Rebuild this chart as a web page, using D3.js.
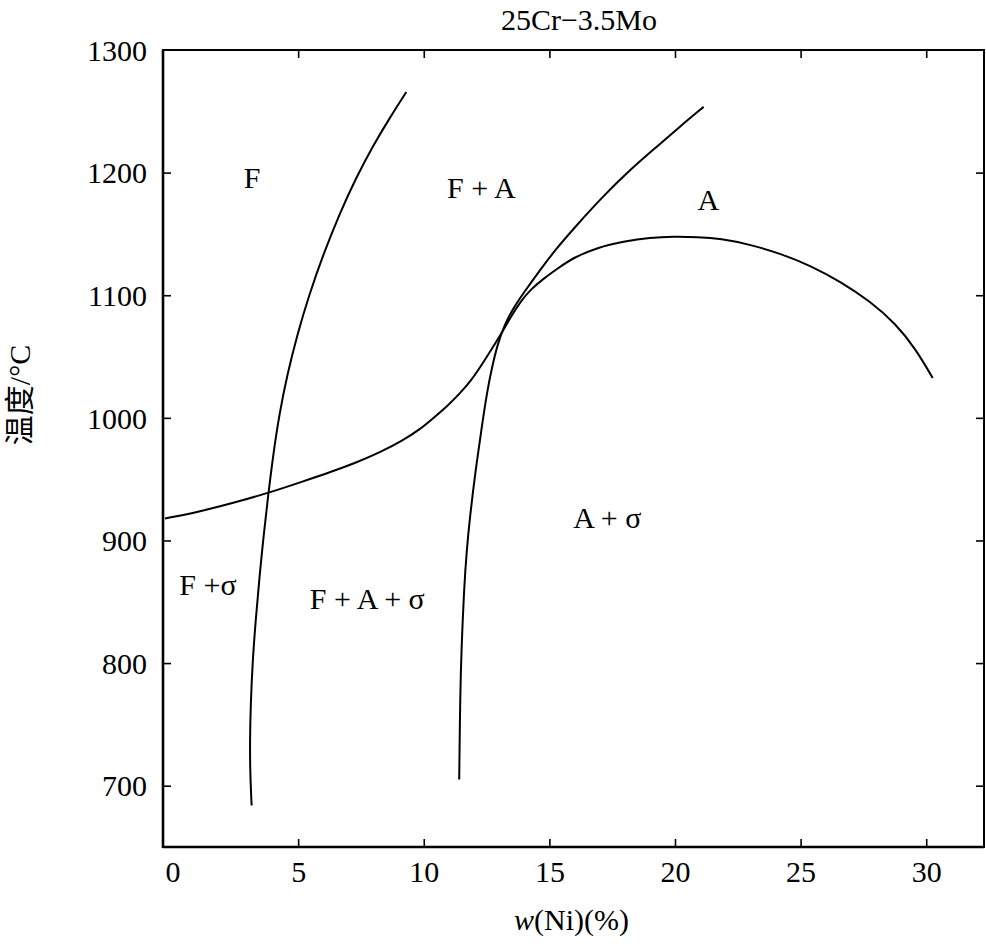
<!DOCTYPE html>
<html><head><meta charset="utf-8">
<script src="https://cdn.jsdelivr.net/npm/d3@7"></script>
<style>body{margin:0;background:#fff}svg{display:block}</style>
</head><body>
<script>
// ---- data ----
const title = "25Cr\u22123.5Mo";
const xTicks = [0, 5, 10, 15, 20, 25, 30];
const yTicks = [700, 800, 900, 1000, 1100, 1200, 1300];
// F / F+A boundary (Ni %, °C)
const curveF = [[3.147,683.9],[3.088,711.7],[3.080,736.3],[3.108,764.9],[3.187,801.7],[3.307,834.5],[3.446,867.2],[3.625,904.0],[3.805,936.7],[4.004,969.5],[4.243,1002.2],[4.562,1034.9],[4.960,1067.6],[5.438,1100.4],[5.996,1133.1],[6.633,1165.8],[7.311,1196.1],[7.988,1222.3],[8.665,1245.3],[9.303,1265.7]];
// sigma solvus
const curveSigma = [[-0.299,917.9],[1.096,923.6],[2.490,931.0],[3.884,939.2],[5.080,947.4],[6.275,955.6],[7.351,963.8],[8.267,971.9],[9.183,981.8],[9.861,990.8],[10.378,999.8],[10.936,1009.6],[11.454,1020.2],[11.932,1031.7],[12.331,1044.0],[12.729,1057.0],[13.127,1070.1],[13.486,1083.2],[13.845,1094.7],[14.243,1104.5],[14.761,1113.5],[15.319,1121.7],[15.956,1130.7],[16.912,1138.9],[17.948,1143.8],[19.024,1147.1],[19.940,1147.9],[20.896,1147.5],[21.813,1146.2],[23.008,1141.3],[24.203,1133.9],[25.398,1124.1],[26.594,1111.0],[27.789,1094.7],[28.785,1076.7],[29.582,1056.2],[30.259,1032.5]];
// F+A / A boundary
const curveA = [[11.41,705.0],[11.45,774.6],[11.50,810.7],[11.60,859.8],[11.71,892.6],[11.85,921.2],[11.97,941.7],[12.07,958.0],[12.29,989.9],[12.51,1020.2],[12.71,1040.7],[12.93,1059.5],[13.21,1075.9],[13.57,1089.8],[14.01,1102.9],[14.58,1119.2],[15.24,1137.2],[16.04,1156.0],[17.10,1180.0],[18.23,1202.7],[19.30,1221.6],[20.22,1238.0],[21.14,1253.6]];
const regionNames = ["F", "F + A", "A", "A + \u03c3", "F +\u03c3", "F + A + \u03c3"];
const regionX = [3.17, 12.29, 21.33, 17.31, 1.41, 7.75];
const regionT = [1196, 1188, 1178, 919, 864, 853];

// ---- layout ----
const W = 986, H = 944;
const L = 163, R = 984, T = 50, B = 847;
const serif = "'Liberation Serif','Times New Roman',serif";

const svg = d3.select("body").append("svg").attr("width", W).attr("height", H);
const x = d3.scaleLinear().domain([-0.38, 32.3]).range([L, R]);
const y = d3.scaleLinear().domain([650, 1300]).range([B, T]);

// frame
svg.append("rect").attr("x", L).attr("y", T).attr("width", R - L).attr("height", B - T)
  .attr("fill", "none").attr("stroke", "#000").attr("stroke-width", 2);
svg.append("line").attr("x1", L).attr("x2", L).attr("y1", T).attr("y2", B+1).attr("stroke","#000").attr("stroke-width",2.6);
svg.append("line").attr("x1", L).attr("x2", R).attr("y1", B).attr("y2", B).attr("stroke","#000").attr("stroke-width",2.6);

// axes with inward ticks
const axB = svg.append("g").attr("transform", `translate(0,${B})`)
  .call(d3.axisBottom(x).tickValues(xTicks).tickSize(-8).tickPadding(14).tickFormat(d3.format("d")));
const axTop = svg.append("g").attr("transform", `translate(0,${T})`)
  .call(d3.axisTop(x).tickValues(xTicks.filter(d => d > 0)).tickSize(-8).tickFormat(""));
const axL = svg.append("g").attr("transform", `translate(${L},0)`)
  .call(d3.axisLeft(y).tickValues(yTicks).tickSize(-8).tickPadding(16).tickFormat(d3.format("d")));
const axR = svg.append("g").attr("transform", `translate(${R},0)`)
  .call(d3.axisRight(y).tickValues(yTicks.filter(d => d < 1300)).tickSize(-8).tickFormat(""));
[axB, axTop, axL, axR].forEach(g => {
  g.select(".domain").remove();
  g.selectAll(".tick line").attr("stroke", "#000").attr("stroke-width", 1.6);
  g.selectAll(".tick text").attr("font-family", serif).attr("font-size", 30).attr("fill", "#000");
});
axB.selectAll(".tick").filter(d => d === 0).select("line").remove();
axL.selectAll(".tick").filter(d => d === 1300).select("line").remove();
axL.selectAll(".tick text").attr("dy", "0.34em");

// curves
const line = d3.line().x(d => x(d[0])).y(d => y(d[1])).curve(d3.curveBasis);
[curveF, curveSigma, curveA].forEach(c => {
  svg.append("path").attr("d", line(c)).attr("fill", "none").attr("stroke", "#000").attr("stroke-width", 2);
});

// region labels
regionNames.forEach((n, i) => {
  svg.append("text").attr("x", x(regionX[i])).attr("y", y(regionT[i]))
    .attr("text-anchor", "middle").attr("dominant-baseline", "central")
    .attr("font-family", serif).attr("font-size", 30).attr("fill", "#000").text(n);
});

// title
svg.append("text").attr("x", 579).attr("y", 30).attr("text-anchor", "middle")
  .attr("font-family", serif).attr("font-size", 30).attr("fill", "#000").text(title);

// x label
const xl = svg.append("text").attr("x", (L + R) / 2 - 2).attr("y", 930).attr("text-anchor", "middle")
  .attr("font-family", serif).attr("font-size", 30).attr("fill", "#000");
xl.append("tspan").attr("font-style", "italic").text("w");
xl.append("tspan").text("(Ni)(%)");

// y label
svg.append("text").attr("transform", "translate(30,395) rotate(-90)").attr("text-anchor", "middle")
  .attr("font-family", "'Liberation Serif','Noto Sans CJK SC',serif").attr("font-size", 30).attr("fill", "#000")
  .text("温度/°C");
</script>
</body></html>
